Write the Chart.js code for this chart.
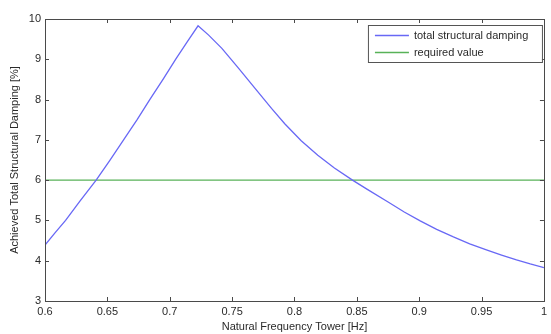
<!DOCTYPE html>
<html>
<head>
<meta charset="utf-8">
<script src="https://cdn.jsdelivr.net/npm/chart.js@4"></script>
<style>
  html, body { margin: 0; padding: 0; background: #fff; }
  #wrap { width: 551px; height: 334px; }
</style>
</head>
<body>
<div id="wrap"><canvas id="damping"></canvas></div>
<script>
// Natural frequency of the tower [Hz] and the achieved damping [%]
const freqHz = [
    0.600, 0.608, 0.6165, 0.628, 0.641, 0.652, 0.663, 0.674, 0.684, 0.695, 0.7047, 0.714, 0.7227,
    0.7312, 0.7418, 0.7551, 0.7684, 0.7816, 0.7922, 0.8054, 0.8187, 0.832, 0.8465, 0.8584,
    0.8744, 0.888, 0.9008, 0.914, 0.9274, 0.9405, 0.9539, 0.966, 0.978, 0.989, 1.000
];
const totalDamping = [
    4.39, 4.69, 5.00, 5.48, 6.00, 6.49, 7.00, 7.51, 8.00, 8.52, 9.00, 9.43, 9.83,
    9.60, 9.27, 8.78, 8.28, 7.78, 7.40, 6.98, 6.62, 6.30, 6.00, 5.77,
    5.47, 5.21, 4.99, 4.78, 4.59, 4.42, 4.27, 4.14, 4.02, 3.92, 3.83
];

// Required damping level
const requiredFreq = [0.6, 1.0];
const requiredDamping = [6, 6];

const xTicks = [0.6, 0.65, 0.7, 0.75, 0.8, 0.85, 0.9, 0.95, 1];
const yTicks = [3, 4, 5, 6, 7, 8, 9, 10];

const colors = {
    blue: 'rgb(104, 104, 245)',
    green: 'rgb(88, 178, 88)',
    axis: '#4a4a4a',
    text: '#2a2a2a'
};

const font = { family: "'Liberation Sans', Arial, sans-serif", size: 11 };

const toPoints = (xs, ys) => xs.map((x, i) => ({ x, y: ys[i] }));

// Box around the axes with inward tick marks on every side
const framePlugin = {
    id: 'frame',
    afterDatasetsDraw(chart) {
        const { ctx, chartArea: a, scales } = chart;
        const len = 4;
        ctx.save();
        ctx.strokeStyle = colors.axis;
        ctx.lineWidth = 1;
        ctx.beginPath();
        xTicks.forEach(v => {
            const px = Math.round(scales.x.getPixelForValue(v)) + 0.5;
            ctx.moveTo(px, a.bottom); ctx.lineTo(px, a.bottom - len);
            ctx.moveTo(px, a.top); ctx.lineTo(px, a.top + len);
        });
        yTicks.forEach(v => {
            const py = Math.round(scales.y.getPixelForValue(v)) + 0.5;
            ctx.moveTo(a.left, py); ctx.lineTo(a.left + len, py);
            ctx.moveTo(a.right, py); ctx.lineTo(a.right - len, py);
        });
        ctx.stroke();
        ctx.strokeRect(Math.round(a.left) + 0.5, Math.round(a.top) + 0.5,
            Math.round(a.right - a.left), Math.round(a.bottom - a.top));
        ctx.restore();
    }
};

// Legend box in the upper right corner of the axes
const legendPlugin = {
    id: 'boxLegend',
    afterDraw(chart) {
        const { ctx, chartArea: a } = chart;
        const x0 = a.right - 176, y0 = a.top + 6, w = 174, h = 37;
        ctx.save();
        ctx.fillStyle = '#fff';
        ctx.fillRect(x0, y0, w, h);
        ctx.strokeStyle = '#555';
        ctx.lineWidth = 1;
        ctx.strokeRect(x0 + 0.5, y0 + 0.5, w, h);
        ctx.font = `${font.size}px ${font.family}`;
        ctx.textBaseline = 'middle';
        chart.data.datasets.forEach((ds, i) => {
            const ty = y0 + 10.5 + i * 17;
            ctx.strokeStyle = ds.borderColor;
            ctx.lineWidth = 1.3;
            ctx.beginPath();
            ctx.moveTo(x0 + 7, ty);
            ctx.lineTo(x0 + 41, ty);
            ctx.stroke();
            ctx.fillStyle = colors.text;
            ctx.fillText(ds.label, x0 + 46, ty);
        });
        ctx.restore();
    }
};

new Chart(document.getElementById('damping'), {
    type: 'scatter',
    data: {
        datasets: [
            {
                label: 'total structural damping',
                data: toPoints(freqHz, totalDamping),
                showLine: true,
                borderColor: colors.blue,
                borderWidth: 1.3,
                pointRadius: 0,
                tension: 0
            },
            {
                label: 'required value',
                data: toPoints(requiredFreq, requiredDamping),
                showLine: true,
                borderColor: colors.green,
                borderWidth: 1.3,
                pointRadius: 0
            }
        ]
    },
    options: {
        responsive: true,
        maintainAspectRatio: false,
        animation: false,
        layout: { padding: { top: 19, right: 3, left: 0, bottom: 0 } },
        plugins: {
            legend: { display: false },
            tooltip: { enabled: false }
        },
        scales: {
            x: {
                type: 'linear',
                min: 0.6,
                max: 1,
                afterFit: (s) => { s.height = 33; },
                afterBuildTicks: (s) => { s.ticks = xTicks.map(v => ({ value: v })); },
                grid: { display: false, drawTicks: false },
                border: { display: false },
                ticks: {
                    autoSkip: false,
                    maxRotation: 0,
                    padding: 4,
                    color: colors.text,
                    font,
                    callback: (v) => String(Number(v.toFixed(2)))
                },
                title: {
                    display: true,
                    text: 'Natural Frequency Tower [Hz]',
                    color: colors.text,
                    font,
                    padding: { top: 0, bottom: 0 }
                }
            },
            y: {
                min: 3,
                max: 10,
                afterFit: (s) => { s.width = 45; },
                afterBuildTicks: (s) => { s.ticks = yTicks.map(v => ({ value: v })); },
                grid: { display: false, drawTicks: false },
                border: { display: false },
                ticks: {
                    padding: 4,
                    color: colors.text,
                    font
                },
                title: {
                    display: true,
                    text: 'Achieved Total Structural Damping [%]',
                    color: colors.text,
                    font,
                    padding: { top: 8, bottom: 0 }
                }
            }
        }
    },
    plugins: [framePlugin, legendPlugin]
});
</script>
</body>
</html>
